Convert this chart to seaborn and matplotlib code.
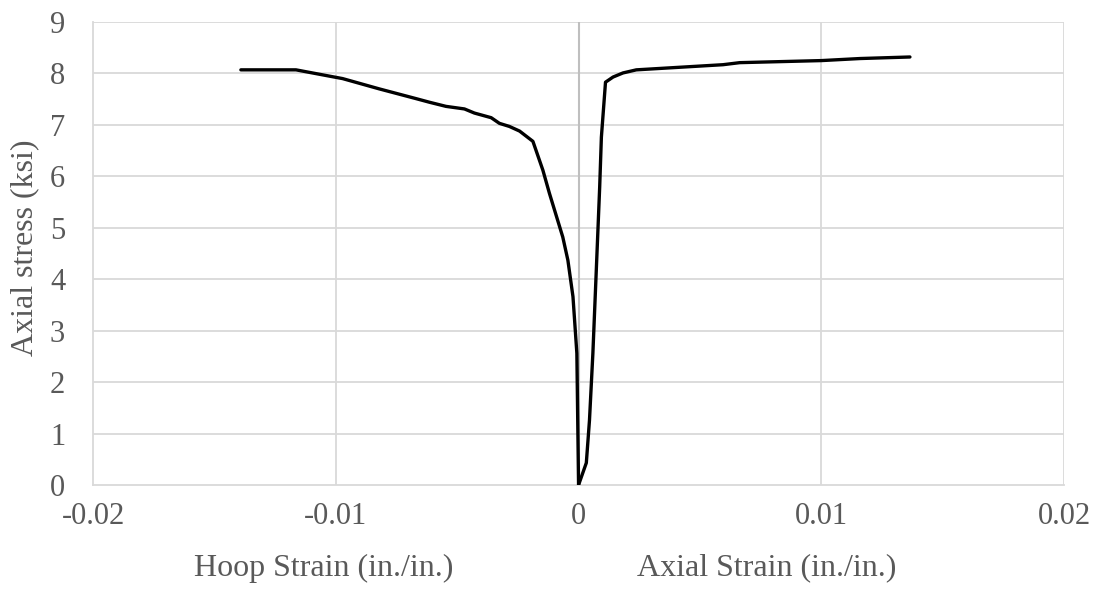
import matplotlib
matplotlib.use("Agg")
import matplotlib.pyplot as plt
import seaborn as sns
import pandas as pd

# Hoop branch (negative strain) and axial branch (positive strain)
hoop_strain = [0, -0.00007, -0.00023, -0.00044, -0.00065, -0.0012, -0.00147, -0.00188,
               -0.00243, -0.00285, -0.00326, -0.0036, -0.00429, -0.0047, -0.00546,
               -0.00614, -0.00669, -0.00821, -0.00972, -0.0104, -0.01164, -0.01391]
hoop_stress = [0, 2.56, 3.66, 4.37, 4.82, 5.67, 6.12, 6.68,
               6.88, 6.97, 7.03, 7.14, 7.23, 7.31, 7.36,
               7.44, 7.51, 7.70, 7.90, 7.96, 8.07, 8.07]

axial_strain = [0, 0.00032, 0.00045, 0.00059, 0.00073, 0.00087, 0.00094, 0.00111,
                0.00142, 0.00183, 0.00238, 0.00416, 0.00595, 0.00664, 0.01,
                0.0116, 0.01365]
axial_stress = [0, 0.43, 1.26, 2.56, 4.17, 5.79, 6.76, 7.83,
                7.93, 8.01, 8.07, 8.12, 8.17, 8.21, 8.25,
                8.29, 8.32]

x_ticks = [-0.02, -0.01, 0, 0.01, 0.02]
x_tick_labels = ["-0.02", "-0.01", "0", "0.01", "0.02"]
y_ticks = list(range(0, 10))

sns.set_theme(style="white")
plt.rcParams["font.family"] = ["Liberation Serif", "DejaVu Serif"]

fig = plt.figure(figsize=(10.97, 5.90), dpi=100)
ax = fig.add_axes([0.0848, 0.178, 0.8852, 0.7847])

hoop = pd.DataFrame({"strain": hoop_strain, "stress": hoop_stress})
axial = pd.DataFrame({"strain": axial_strain, "stress": axial_stress})

grid_c = "#d9d9d9"
text_c = "#595959"

for y in y_ticks[1:]:
    ax.axhline(y, color=grid_c, lw=1.3, zorder=0)
for x in [-0.01, 0.01, 0.02]:
    ax.axvline(x, color=grid_c, lw=1.3, zorder=0)
ax.axvline(0, color="#bfbfbf", lw=1.5, zorder=0.5)

sns.lineplot(data=hoop, x="strain", y="stress", sort=False, color="black",
             lw=2.4, ax=ax, zorder=3)
sns.lineplot(data=axial, x="strain", y="stress", sort=False, color="black",
             lw=2.4, ax=ax, zorder=3)

ax.set_xlim(-0.02, 0.02)
ax.set_ylim(0, 9)
ax.set_xticks(x_ticks)
ax.set_xticklabels(x_tick_labels)
ax.set_yticks(y_ticks)

for s in ["top", "right"]:
    ax.spines[s].set_visible(False)
for s in ["left", "bottom"]:
    ax.spines[s].set_color(grid_c)
    ax.spines[s].set_linewidth(1.3)

ax.tick_params(axis="both", length=0, labelsize=22, labelcolor=text_c)
ax.tick_params(axis="y", pad=20)
ax.tick_params(axis="x", pad=12)

ax.set_xlabel("")
ax.set_ylabel("")
fig.text(25 / 1097, 1 - 248 / 590, "Axial stress (ksi)", rotation=90, ha="center",
         va="center", fontsize=23, color=text_c)

fig.text(324 / 1097, 1 - 568 / 590, "Hoop Strain (in./in.)", ha="center", va="center",
         fontsize=23, color=text_c)
fig.text(767 / 1097, 1 - 568 / 590, "Axial Strain (in./in.)", ha="center", va="center",
         fontsize=23, color=text_c)

fig.savefig("out.png", dpi=100)
